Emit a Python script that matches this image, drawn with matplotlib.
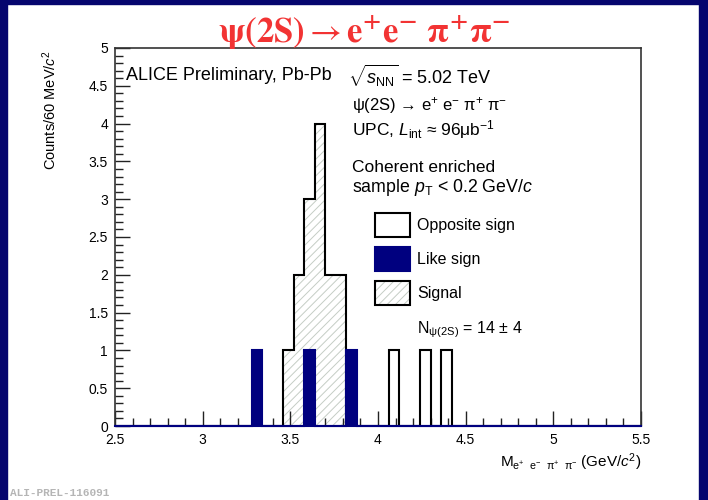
import numpy as np
import matplotlib
matplotlib.use("Agg")
import matplotlib.pyplot as plt
from matplotlib.patches import Patch, Rectangle

# invariant mass histograms, 60 MeV bins from 2.5 to 5.5 GeV/c^2
bin_width = 0.06
m_min, m_max = 2.5, 5.5

# opposite sign pairs (lower bin edge, counts)
os_low = [3.46, 3.52, 3.58, 3.64, 3.70, 3.76, 4.06, 4.24, 4.36]
os_counts = [1, 2, 3, 4, 2, 2, 1, 1, 1]
# like sign pairs
ls_low = [3.28, 3.58, 3.82]
ls_counts = [1, 1, 1]
# signal region
sig_low = [3.46, 3.52, 3.58, 3.64, 3.70, 3.76]
sig_counts = [1, 2, 3, 4, 2, 2]

navy = "#00007f"
W, H = 708, 500

edges = np.round(np.arange(m_min, m_max + 1e-9, bin_width), 2)


def fill_bins(lows, counts):
    h = np.zeros(len(edges) - 1)
    for lo, c in zip(lows, counts):
        h[int(round((lo - m_min) / bin_width))] += c
    return h


def px(x, y):
    # pixel position -> figure fraction
    return x / W, 1 - y / H


os_h = fill_bins(os_low, os_counts)
ls_h = fill_bins(ls_low, ls_counts)
sig_h = fill_bins(sig_low, sig_counts)

plt.rcParams["font.family"] = ["Liberation Sans", "DejaVu Sans"]
plt.rcParams["mathtext.fontset"] = "custom"
plt.rcParams["mathtext.rm"] = "Liberation Sans"
plt.rcParams["mathtext.it"] = "Liberation Sans:italic"
plt.rcParams["mathtext.bf"] = "Liberation Sans:bold"
plt.rcParams["hatch.linewidth"] = 0.7

fig = plt.figure(figsize=(W / 100, H / 100), dpi=100)
fig.patch.set_facecolor("white")

# dark frame around the slide
fig.patches.append(Rectangle((0, 0), 7 / W, 1, transform=fig.transFigure, color="#05056e", zorder=-5))
fig.patches.append(Rectangle((0, 1 - 4 / H), 1, 4 / H, transform=fig.transFigure, color="#05056e", zorder=-5))
fig.patches.append(Rectangle((1 - 9 / W, 0), 9 / W, 1, transform=fig.transFigure, color="#05056e", zorder=-5))

l, t = px(115, 48)
r, b = px(641, 426)
ax = fig.add_axes([l, b, r - l, t - b])

ax.stairs(sig_h, edges, fill=True, facecolor="white", edgecolor="#c5cdc5", hatch="////", lw=0, zorder=1)
ax.stairs(os_h, edges, baseline=0, color="black", lw=1.5, zorder=2)
ax.stairs(ls_h, edges, fill=True, facecolor=navy, edgecolor=navy, lw=1.5, zorder=3, clip_on=False)

ax.set_xlim(m_min, m_max)
ax.set_ylim(0, 5)
ax.set_xticks(np.arange(2.5, 5.51, 0.5))
ax.set_xticks(np.arange(2.5, 5.51, 0.1), minor=True)
ax.set_yticks(np.arange(0, 5.01, 0.5))
ax.set_yticks(np.arange(0, 5.01, 0.1), minor=True)
ax.set_xticklabels(["2.5", "3", "3.5", "4", "4.5", "5", "5.5"])
ax.set_yticklabels(["0", "0.5", "1", "1.5", "2", "2.5", "3", "3.5", "4", "4.5", "5"])
ax.tick_params(which="both", direction="in", top=False, right=False, labelsize=10, width=1, color="#222222")
ax.tick_params(which="major", length=11, pad=5)
ax.tick_params(which="minor", length=5.5)
for side in ["left", "top", "right"]:
    ax.spines[side].set_color("#333333")
    ax.spines[side].set_linewidth(1.2)
ax.spines["bottom"].set_color(navy)
ax.spines["bottom"].set_linewidth(1.5)

# title
fig.text(*px(218, 43), r"$\mathbf{ψ(2S)}\rightarrow \mathbf{e^{+}e^{-}\ π^{+}π^{-}}$",
         ha="left", va="baseline", fontsize=25, color="#f23333", math_fontfamily="stix")

# axis titles
fig.text(*px(50, 50), "Counts/60 MeV/$c^{2}$", rotation=90, ha="center", va="top", fontsize=10.5)
fig.text(*px(641, 462), r"M$_{\mathrm{e^{+}\ \ e^{-}\ \ π^{+}\ \ π^{-}}}$ (GeV/$c^{2}$)",
         ha="right", va="center", fontsize=11)

# annotations
fig.text(*px(126, 76), "ALICE Preliminary, Pb-Pb", ha="left", va="center", fontsize=13)
fig.text(*px(348, 76), r"$\sqrt{s_{\mathrm{NN}}}$ = 5.02 TeV", ha="left", va="center", fontsize=13)
fig.text(*px(352, 105), "ψ(2S) → e$^{+}$ e$^{-}$ π$^{+}$ π$^{-}$", ha="left", va="center", fontsize=12)
fig.text(*px(352, 130), "UPC, $L_{\\mathrm{int}}$ ≈ 96μb$^{-1}$", ha="left", va="center", fontsize=12.5)
fig.text(*px(352, 167), "Coherent enriched", ha="left", va="center", fontsize=12.5)
fig.text(*px(352, 187), "sample $p_{\\mathrm{T}}$ < 0.2 GeV/$c$", ha="left", va="center", fontsize=12.8)
fig.text(*px(417, 330), "N$_{\\mathrm{ψ(2S)}}$ = 14 ± 4", ha="left", va="center", fontsize=11.5)

handles = [
    Patch(facecolor="white", edgecolor="black", lw=1.5),
    Patch(facecolor=navy, edgecolor=navy, lw=1.5),
    (Patch(facecolor="white", edgecolor="#c5cdc5", hatch="////", lw=0),
     Patch(facecolor="none", edgecolor="black", lw=1.5)),
]
fig.legend(handles, ["Opposite sign", "Like sign", "Signal"],
           loc="upper left", bbox_to_anchor=px(375, 213), bbox_transform=fig.transFigure,
           frameon=False, borderpad=0, borderaxespad=0, fontsize=11.5,
           handlelength=2.2, handleheight=1.9, handletextpad=0.45, labelspacing=0.65)

fig.text(*px(10, 493), "ALI-PREL-116091", ha="left", va="center", fontsize=8,
         color="#b5b5b5", family=["Liberation Mono", "DejaVu Sans Mono"], fontweight="bold")

fig.savefig("out.png", dpi=100)
